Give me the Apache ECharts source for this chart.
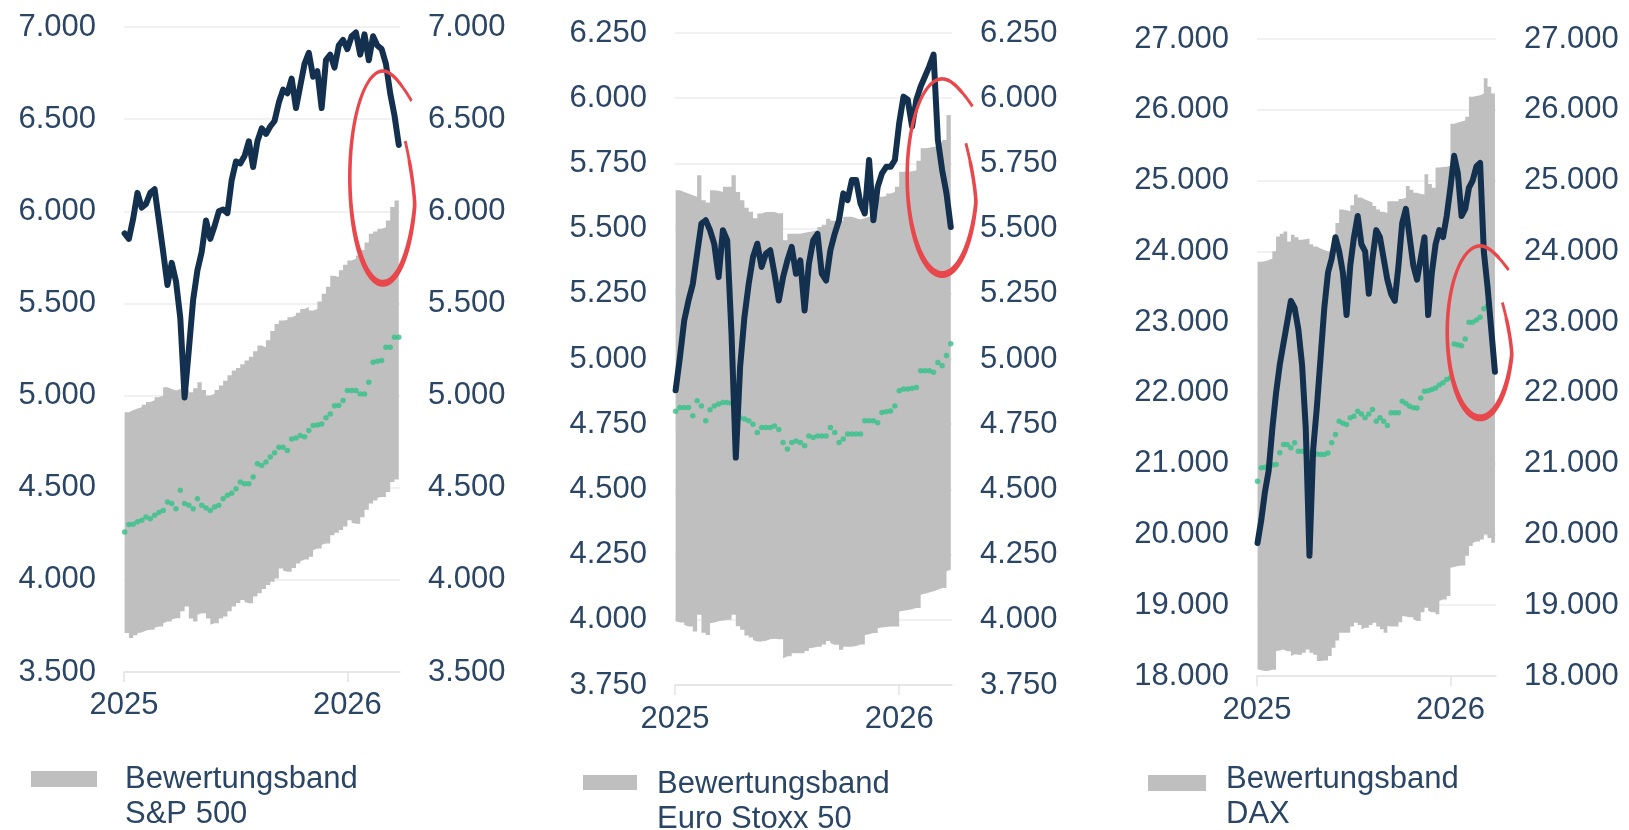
<!DOCTYPE html>
<html>
<head>
<meta charset="utf-8">
<script src="https://cdn.jsdelivr.net/npm/echarts@6/dist/echarts.min.js"></script>
<style>
  html, body { margin: 0; padding: 0; background: #fff; }
  #chart { width: 1629px; height: 830px; }
</style>
</head>
<body>
<div id="chart"></div>
<script>
// wöchentliche Werte, erster Punkt 02.01.2025
const weekCount = 65;
const weeks = [];
for (let i = 0; i < weekCount; i++) {
  weeks.push(new Date(2025, 0, 2 + 7 * i).getTime());
}

// S&P 500
const spxLine = [5880, 5850, 5960, 6100, 6020, 6040, 6100, 6120, 5950, 5780,
  5600, 5720, 5620, 5420, 4990, 5250, 5520, 5680, 5780, 5950,
  5850, 5920, 6000, 6010, 5990, 6170, 6270, 6260, 6300, 6380,
  6240, 6380, 6450, 6420, 6460, 6490, 6590, 6660, 6640, 6720,
  6560, 6680, 6800, 6860, 6730, 6760, 6560, 6820, 6850, 6780,
  6900, 6930, 6880, 6950, 6970, 6850, 6960, 6820, 6950, 6900,
  6880, 6800, 6640, 6520, 6360];
const spxUpper = [4910, 4920, 4930, 4937, 4950, 4965, 4975, 4991, 5000, 5045,
  5035, 5027, 5035, 5045, 5030, 5018, 5040, 5072, 5030, 5000,
  5010, 5030, 5054, 5080, 5110, 5136, 5150, 5170, 5190, 5210,
  5240, 5272, 5262, 5300, 5350, 5389, 5407, 5410, 5425, 5434,
  5450, 5470, 5480, 5462, 5470, 5510, 5552, 5590, 5650, 5643,
  5680, 5710, 5733, 5742, 5760, 5790, 5830, 5878, 5890, 5905,
  5914, 5950, 6023, 6059, 6068];
const spxLower = [3711, 3684, 3700, 3711, 3715, 3725, 3729, 3740, 3747, 3765,
  3774, 3785, 3792, 3830, 3855, 3790, 3774, 3810, 3819, 3790,
  3756, 3765, 3790, 3801, 3830, 3855, 3875, 3891, 3880, 3873,
  3910, 3927, 3950, 3972, 3990, 4008, 4062, 4050, 4044, 4065,
  4089, 4100, 4110, 4125, 4161, 4170, 4190, 4197, 4242, 4255,
  4270, 4290, 4323, 4310, 4305, 4340, 4380, 4414, 4430, 4445,
  4450, 4477, 4531, 4545, 4558];
const spxFair = [4260, 4300, 4302, 4315, 4323, 4341, 4332, 4350, 4365, 4377,
  4423, 4415, 4386, 4486, 4414, 4405, 4386, 4440, 4405, 4390,
  4377, 4395, 4405, 4440, 4459, 4470, 4495, 4531, 4522, 4522,
  4558, 4630, 4621, 4639, 4666, 4690, 4720, 4720, 4702, 4765,
  4770, 4783, 4777, 4810, 4837, 4840, 4846, 4880, 4900, 4945,
  4946, 4973, 5027, 5027, 5027, 5009, 5009, 5072, 5181, 5186,
  5190, 5262, 5262, 5317, 5317];

// Euro Stoxx 50
const sx5eLine = [4880, 5006, 5147, 5224, 5288, 5404, 5519, 5532, 5494, 5440,
  5314, 5494, 5455, 5096, 4622, 4968, 5160, 5288, 5391, 5442,
  5353, 5404, 5417, 5327, 5224, 5314, 5378, 5430, 5327, 5378,
  5186, 5365, 5455, 5480, 5327, 5301, 5417, 5480, 5532, 5635,
  5609, 5686, 5686, 5596, 5558, 5763, 5532, 5660, 5712, 5737,
  5737, 5763, 5904, 6006, 5994, 5891, 5994, 6045, 6083, 6122,
  6167, 5840, 5724, 5635, 5506];
const sx5eUpper = [5647, 5640, 5635, 5628, 5622, 5705, 5609, 5600, 5647, 5645,
  5640, 5660, 5660, 5705, 5640, 5609, 5580, 5565, 5540, 5558,
  5564, 5564, 5564, 5558, 5560, 5455, 5480, 5480, 5480, 5484,
  5487, 5490, 5495, 5506, 5515, 5538, 5530, 5526, 5530, 5545,
  5545, 5540, 5535, 5540, 5545, 5550, 5558, 5622, 5625, 5635,
  5640, 5660, 5718, 5718, 5720, 5724, 5760, 5808, 5810, 5814,
  5814, 5830, 5840, 5936, 5923];
const sx5eLower = [3994, 3990, 3980, 3974, 3955, 4019, 3950, 3942, 3987, 3990,
  3994, 3997, 4000, 4019, 3975, 3962, 3940, 3932, 3923, 3917,
  3917, 3920, 3925, 3927, 3925, 3853, 3860, 3872, 3872, 3872,
  3880, 3891, 3893, 3897, 3905, 3919, 3910, 3904, 3885, 3897,
  3897, 3897, 3900, 3905, 3942, 3945, 3949, 3968, 3970, 3972,
  3974, 3974, 4032, 4035, 4038, 4040, 4045, 4096, 4100, 4105,
  4109, 4115, 4122, 4186, 4192];
const sx5eFair = [4800, 4814, 4814, 4814, 4782, 4840, 4820, 4763, 4805, 4820,
  4827, 4833, 4833, 4830, 4800, 4775, 4770, 4763, 4750, 4718,
  4737, 4737, 4737, 4743, 4730, 4680, 4655, 4680, 4686, 4680,
  4667, 4705, 4699, 4705, 4705, 4705, 4737, 4718, 4680, 4693,
  4712, 4712, 4712, 4712, 4763, 4763, 4763, 4756, 4795, 4798,
  4801, 4820, 4878, 4885, 4885, 4888, 4891, 4955, 4955, 4955,
  4949, 4987, 4974, 5013, 5058];

// DAX
const daxLine = [19880, 20200, 20600, 20900, 21500, 22000, 22400, 22700, 23000, 23300,
  23200, 22900, 22400, 21500, 19700, 21200, 21800, 22500, 23200, 23700,
  23900, 24200, 24000, 23700, 23100, 23800, 24200, 24500, 24100, 24000,
  23400, 23900, 24300, 24200, 23900, 23600, 23400, 23300, 23800, 24400,
  24600, 24200, 23800, 23600, 23900, 24200, 23100, 23700, 24100, 24300,
  24200, 24500, 24900, 25350, 25100, 24500, 24600, 24900, 25000, 25200,
  25250, 24000, 23500, 22900, 22300];
const daxUpper = [23854, 23860, 23877, 23900, 24000, 24210, 24250, 24281, 24139, 24234,
  24200, 24163, 24170, 24186, 24100, 24067, 24040, 24020, 24000, 23996,
  24000, 24400, 24590, 24580, 24567, 24650, 24804, 24760, 24733, 24710,
  24685, 24640, 24590, 24560, 24543, 24709, 24709, 24709, 24740, 24757,
  24923, 24870, 24828, 24810, 24804, 25089, 24950, 24899, 25184, 25190,
  25195, 25208, 25802, 25820, 25835, 25850, 25900, 26183, 26195, 26206,
  26230, 26444, 26325, 26230, 26230];
const daxLower = [18094, 18080, 18071, 18075, 18090, 18353, 18360, 18376, 18350, 18282,
  18306, 18300, 18330, 18376, 18330, 18300, 18212, 18212, 18220, 18282,
  18400, 18500, 18612, 18612, 18612, 18700, 18753, 18720, 18659, 18680,
  18720, 18753, 18700, 18659, 18612, 18706, 18700, 18700, 18760, 18847,
  18840, 18830, 18800, 18776, 18900, 18965, 18918, 18900, 18871, 19059,
  19080, 19129, 19529, 19540, 19553, 19560, 19700, 19835, 19880, 19900,
  19929, 20000, 19950, 19882, 19882];
const daxFair = [20753, 20941, 20950, 20965, 20980, 20988, 21153, 21271, 21271, 21224,
  21294, 21176, 21176, 21160, 21150, 21140, 21135, 21129, 21129, 21150,
  21294, 21412, 21600, 21570, 21553, 21650, 21671, 21741, 21700, 21647,
  21700, 21765, 21600, 21647, 21600, 21539, 21718, 21718, 21718, 21881,
  21850, 21810, 21790, 21786, 21929, 22024, 22030, 22048, 22070, 22110,
  22143, 22190, 22214, 22689, 22680, 22665, 22760, 22998, 22998, 23030,
  23069, 23188, 23236, null, null];

const bandLabel = "Bewertungsband";

// Farben
const textColor = "#2b4565";
const lineColor = "#14304f";
const bandColor = "#bfbfbf";
const fairColor = "#35c28a";
const ringColor = "#e8474c";
const gridColor = "#ececec";
const fontFamily = "'Liberation Sans', Arial, sans-serif";

const panels = [
  {
    name: "S&P 500", line: spxLine, upper: spxUpper, lower: spxLower, fair: spxFair,
    min: 3500, max: 7000, step: 500,
    grid: { left: 124, top: 27, width: 276, height: 645 },
    labelMargin: 18,
    ring: { date: "2026-02-28", value: 6185, days: 54, span: 576 },
    legend: { x: 31, y: 771, w: 66, h: 16, textX: 125, textY: 762 },
  },
  {
    name: "Euro Stoxx 50", line: sx5eLine, upper: sx5eUpper, lower: sx5eLower, fair: sx5eFair,
    min: 3750, max: 6250, step: 250,
    grid: { left: 675, top: 33, width: 277, height: 652 },
    labelMargin: 19,
    ring: { date: "2026-03-12", value: 5699, days: 57, span: 375 },
    legend: { x: 583, y: 775, w: 54, h: 15, textX: 657, textY: 767 },
  },
  {
    name: "DAX", line: daxLine, upper: daxUpper, lower: daxLower, fair: daxFair,
    min: 18000, max: 27000, step: 1000,
    grid: { left: 1257, top: 39, width: 239, height: 637 },
    labelMargin: 19,
    ring: { date: "2026-02-26", value: 22862, days: 62, span: 1215 },
    legend: { x: 1148, y: 775, w: 58, h: 16, textX: 1226, textY: 762 },
  },
];

function pairs(values) {
  return weeks.map((w, i) => [w, values[i]]).filter((p) => p[1] != null);
}

function thousands(v) {
  return String(v).replace(/\B(?=(\d{3})+(?!\d))/g, ".");
}

// roter Kreis, freihändig wirkend
function renderRing(params, api) {
  const cx = api.value(0), cy = api.value(1);
  const c = api.coord([cx, cy]);
  const s = api.size([api.value(2), api.value(3)], [cx, cy]);
  const rx = s[0], ry = s[1];
  const outer = [], inner = [];
  for (let a = -20; a <= 314; a += 2) {
    const t = (a * Math.PI) / 180;
    let fx = 1;
    if (a < 15) fx = 0.72 + (0.28 * (a + 20)) / 35;
    if (a > 270) fx = 1 + 0.25 * Math.pow((a - 270) / 44, 2);
    let w = 3.6 + 3.4 * Math.pow(Math.max(0, Math.sin(t)), 2);
    if (a < -8) w *= 0.8;
    if (a > 300) w *= 0.85;
    const px = Math.cos(t), py = Math.sin(t);
    outer.push([c[0] + (rx * fx + w / 2) * px, c[1] + (ry + w / 2) * py]);
    inner.push([c[0] + (rx * fx - w / 2) * px, c[1] + (ry - w / 2) * py]);
  }
  return {
    type: "polygon",
    shape: { points: outer.concat(inner.reverse()) },
    style: { fill: ringColor },
  };
}

const grids = [], xAxes = [], yAxes = [], series = [], graphics = [];

panels.forEach((p, i) => {
  grids.push(Object.assign({ containLabel: false }, p.grid));

  xAxes.push({
    type: "time",
    gridIndex: i,
    min: new Date(2025, 0, 1).getTime(),
    max: new Date(2026, 2, 28).getTime(),
    minInterval: 365 * 24 * 3600 * 1000,
    splitNumber: 1,
    axisLine: { show: true, lineStyle: { color: "#e3e3e3", width: 1.5 } },
    axisTick: { show: true, length: 10, lineStyle: { color: "#e3e3e3", width: 1.5 } },
    axisLabel: {
      formatter: "{yyyy}",
      color: textColor, fontSize: 31, fontFamily: fontFamily,
      margin: p.labelMargin,
    },
    splitLine: { show: false },
  });

  const yBase = {
    type: "value",
    gridIndex: i,
    min: p.min, max: p.max, interval: p.step,
    axisLine: { show: false },
    axisTick: { show: false },
    axisLabel: {
      formatter: thousands,
      color: textColor, fontSize: 31, fontFamily: fontFamily,
      margin: 28,
    },
  };
  yAxes.push(Object.assign({}, yBase, {
    position: "left",
    splitLine: { show: true, lineStyle: { color: gridColor, width: 1.5 } },
  }));
  yAxes.push(Object.assign({}, yBase, {
    position: "right",
    splitLine: { show: false },
  }));

  const stackId = "band" + i;
  series.push({
    type: "line", xAxisIndex: i, yAxisIndex: 2 * i,
    stack: stackId, step: "end",
    data: pairs(p.lower),
    symbol: "none", silent: true,
    lineStyle: { width: 0, opacity: 0 },
    z: 1,
  });
  series.push({
    name: bandLabel + " " + p.name,
    type: "line", xAxisIndex: i, yAxisIndex: 2 * i,
    stack: stackId, step: "end",
    data: weeks.map((w, k) => [w, p.upper[k] - p.lower[k]]),
    symbol: "none",
    lineStyle: { width: 0, opacity: 0 },
    areaStyle: { color: bandColor, opacity: 1 },
    z: 1,
  });
  series.push({
    type: "scatter", xAxisIndex: i, yAxisIndex: 2 * i,
    data: pairs(p.fair),
    symbol: "circle", symbolSize: 5.5,
    itemStyle: { color: fairColor },
    z: 3,
  });
  series.push({
    name: p.name,
    type: "line", xAxisIndex: i, yAxisIndex: 2 * i,
    data: pairs(p.line),
    symbol: "none",
    lineStyle: { color: lineColor, width: 6, join: "round", cap: "round" },
    z: 4,
  });
  series.push({
    type: "custom", xAxisIndex: i, yAxisIndex: 2 * i,
    renderItem: renderRing,
    clip: false,
    data: [[new Date(p.ring.date + "T00:00:00").getTime(), p.ring.value,
      p.ring.days * 24 * 3600 * 1000, p.ring.span]],
    z: 5,
  });

  // Legende
  graphics.push({
    type: "rect",
    shape: { x: p.legend.x, y: p.legend.y, width: p.legend.w, height: p.legend.h },
    style: { fill: bandColor },
  });
  graphics.push({
    type: "text",
    x: p.legend.textX, y: p.legend.textY,
    style: {
      text: bandLabel + "\n" + p.name,
      fill: textColor,
      font: "31px " + fontFamily,
      lineHeight: 35,
      verticalAlign: "top",
    },
  });
});

const chart = echarts.init(document.getElementById("chart"));
chart.setOption({
  animation: false,
  backgroundColor: "#fff",
  grid: grids,
  xAxis: xAxes,
  yAxis: yAxes,
  series: series,
  graphic: graphics,
});
</script>
</body>
</html>
